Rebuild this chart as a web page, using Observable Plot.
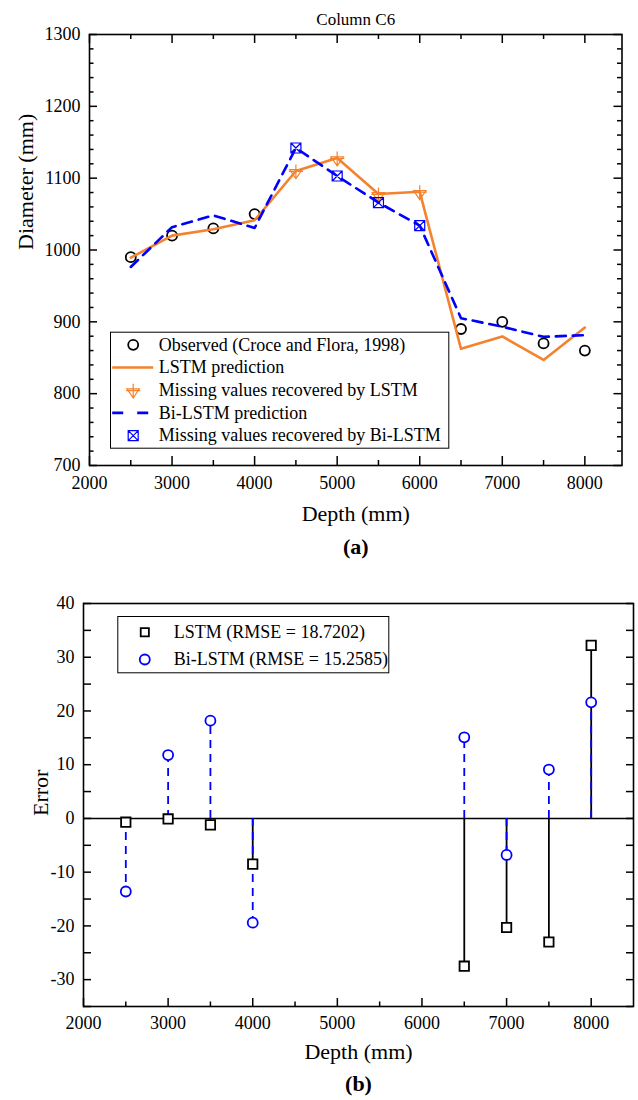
<!DOCTYPE html>
<html><head><meta charset="utf-8">
<script src="https://cdn.jsdelivr.net/npm/d3@7"></script>
<script src="https://cdn.jsdelivr.net/npm/@observablehq/plot@0.6"></script>
<style>
body{margin:0;background:#fff;}
#wrap svg{display:block;}
</style>
</head><body><div id="wrap"></div>
<script>
// ---------- data ----------
const depth = [2500,3000,3500,4000,4500,5000,5500,6000,6500,7000,7500,8000];
const observedDepth = [2500,3000,3500,4000,6500,7000,7500,8000];
const observed = [990,1020,1030,1050,890,900,870,860];
const lstmPred = [989.3,1020,1028.8,1041.4,1110,1128,1078,1081,862.4,879.7,847,892.1];
const biPred = [976.4,1031.8,1048.2,1030.6,1142,1103,1066,1034,905.1,893.2,879.1,881.5];
const missingDepth = [4500,5000,5500,6000];
const lstmMissing = [1110,1128,1078,1081];
const biMissing = [1142,1103,1066,1034];
const lstmError = [-0.7,-0.1,-1.2,-8.5,-27.5,-20.3,-23.0,32.2];
const biError = [-13.6,11.8,18.2,-19.4,15.1,-6.8,9.1,21.6];
const legendA = ["Observed (Croce and Flora, 1998)","LSTM prediction","Missing values recovered by LSTM","Bi-LSTM prediction","Missing values recovered by Bi-LSTM"];
const legendB = ["LSTM (RMSE = 18.7202)","Bi-LSTM (RMSE = 15.2585)"];
const xTicksMajor = [2000,3000,4000,5000,6000,7000,8000];
const xTicksMinor = [2500,3500,4500,5500,6500,7500];
const yTicksA = [700,800,900,1000,1100,1200,1300];
const yTicksAMinor = d3.range(720,1300,20).filter(v => v % 100 !== 0);
const yTicksB = [-30,-20,-10,0,10,20,30,40];
const yTicksBAll = d3.range(-35,41,5);

const ORANGE = "#F4822E", BLUE = "#0000FF";
const FONT = "'Liberation Serif', 'Times New Roman', serif";

// ---------- custom symbols ----------
const triPlus = {draw(ctx, size){ const r = Math.sqrt(size/Math.PI);
  ctx.moveTo(-0.95*r,-0.2*r); ctx.lineTo(0.95*r,-0.2*r); ctx.lineTo(0,1.2*r); ctx.closePath();
  ctx.moveTo(0,-1.0*r); ctx.lineTo(0,1.2*r);
  ctx.moveTo(-1.1*r,0.05*r); ctx.lineTo(1.1*r,0.05*r); }};
const squareX = {draw(ctx, size){ const r = Math.sqrt(size/Math.PI);
  ctx.moveTo(-r,-r); ctx.lineTo(r,-r); ctx.lineTo(r,r); ctx.lineTo(-r,r); ctx.closePath();
  ctx.moveTo(-r,-r); ctx.lineTo(r,r); ctx.moveTo(r,-r); ctx.lineTo(-r,r); }};
const solidSample = {draw(ctx){ ctx.moveTo(-21,0); ctx.lineTo(20,0); }};
const dashSample = {draw(ctx){ ctx.moveTo(-21,0); ctx.lineTo(-10,0); ctx.moveTo(4,0); ctx.lineTo(15,0); }};

// ---------- chart (a) ----------
const A = {w:638, h:565, mt:34, mb:100, ml:89, mr:16.5};
const aPH = A.h - A.mt - A.mb, aPW = A.w - A.ml - A.mr;
const obsData = observedDepth.map((d,i)=>({x:d, y:observed[i]}));
const lstmData = depth.map((d,i)=>({x:d, y:lstmPred[i]}));
const biData = depth.map((d,i)=>({x:d, y:biPred[i]}));
const lmData = missingDepth.map((d,i)=>({x:d, y:lstmMissing[i]}));
const bmData = missingDepth.map((d,i)=>({x:d, y:biMissing[i]}));

const legA0 = 310.3, legAStep = 22.7;
const legASymbols = [
  {symbol:"circle", stroke:"black", r:5, sw:1.8},
  {symbol:solidSample, stroke:ORANGE, r:5, sw:2.6},
  {symbol:triPlus, stroke:ORANGE, r:6.5, sw:1.2},
  {symbol:dashSample, stroke:BLUE, r:5, sw:2.6},
  {symbol:squareX, stroke:BLUE, r:5, sw:1.2}
];

const chartA = Plot.plot({
  width:A.w, height:A.h, marginTop:A.mt, marginBottom:A.mb, marginLeft:A.ml, marginRight:A.mr,
  style:{fontFamily:FONT, fontSize:"18px", color:"black", background:"white"},
  x:{domain:[2000,8450]}, y:{domain:[700,1300]},
  marks:[
    // inward ticks
    Plot.tickX(xTicksMajor, {x:d=>d, stroke:"black", strokeWidth:1.5, insetTop:aPH-9}),
    Plot.tickX(xTicksMinor, {x:d=>d, stroke:"black", strokeWidth:1.5, insetTop:aPH-5}),
    Plot.tickX(xTicksMajor, {x:d=>d, stroke:"black", strokeWidth:1.5, insetBottom:aPH-9}),
    Plot.tickX(xTicksMinor, {x:d=>d, stroke:"black", strokeWidth:1.5, insetBottom:aPH-5}),
    Plot.tickY(yTicksA, {y:d=>d, stroke:"black", strokeWidth:1.5, insetRight:aPW-8}),
    Plot.tickY(yTicksAMinor, {y:d=>d, stroke:"black", strokeWidth:1.5, insetRight:aPW-4.5}),
    Plot.tickY(yTicksA, {y:d=>d, stroke:"black", strokeWidth:1.5, insetLeft:aPW-8}),
    Plot.tickY(yTicksAMinor, {y:d=>d, stroke:"black", strokeWidth:1.5, insetLeft:aPW-4.5}),
    Plot.axisX({ticks:xTicksMajor, tickSize:0, tickPadding:11, tickFormat:d=>String(d), label:null}),
    Plot.axisY({ticks:yTicksA, tickSize:0, tickPadding:9, tickFormat:d=>String(d), label:null}),
    // data
    Plot.dot(obsData, {x:"x", y:"y", r:5, stroke:"black", strokeWidth:1.8, fill:"none"}),
    Plot.line(lstmData, {x:"x", y:"y", stroke:ORANGE, strokeWidth:2.6}),
    Plot.dot(lmData, {x:"x", y:"y", symbol:triPlus, r:6.5, stroke:ORANGE, strokeWidth:1.2, fill:"none"}),
    Plot.line(biData, {x:"x", y:"y", stroke:BLUE, strokeWidth:2.6, strokeDasharray:"10,7"}),
    Plot.dot(bmData, {x:"x", y:"y", symbol:squareX, r:5, stroke:BLUE, strokeWidth:1.2, fill:"none"}),
    Plot.frame({stroke:"black", strokeWidth:1.6}),
    // legend
    Plot.frame({stroke:"black", strokeWidth:1, fill:"white", insetLeft:21, insetTop:297.7, insetRight:173.2, insetBottom:17.3}),
    ...legASymbols.map((s,i)=>Plot.dot([0], {frameAnchor:"top-left", dx:43.7, dy:legA0+i*legAStep, symbol:s.symbol, r:s.r, stroke:s.stroke, strokeWidth:s.sw, fill:"none"})),
    ...legendA.map((t,i)=>Plot.text([t], {frameAnchor:"top-left", dx:69.3, dy:legA0+i*legAStep, text:d=>d, textAnchor:"start", lineAnchor:"middle", fontSize:18, fill:"black"})),
    // titles
    Plot.text(["Column C6"], {frameAnchor:"top", dy:-10, text:d=>d, lineAnchor:"bottom", fontSize:17, fill:"black"}),
    Plot.text(["Depth (mm)"], {frameAnchor:"bottom", dy:55, text:d=>d, lineAnchor:"bottom", fontSize:22, fill:"black"}),
    Plot.text(["(a)"], {frameAnchor:"bottom", dy:88, text:d=>d, lineAnchor:"bottom", fontSize:22, fontWeight:"bold", fill:"black"}),
    Plot.text(["Diameter (mm)"], {frameAnchor:"left", dx:-64, rotate:-90, text:d=>d, lineAnchor:"middle", fontSize:22, fill:"black"})
  ]
});

// ---------- chart (b) ----------
const B = {w:638, h:535, mt:38, mb:94, ml:83, mr:5};
const bPH = B.h - B.mt - B.mb, bPW = B.w - B.ml - B.mr;
const errL = observedDepth.map((d,i)=>({x:d, y:lstmError[i]}));
const errB = observedDepth.map((d,i)=>({x:d, y:biError[i]}));
const legB0 = 28.7, legBStep = 27.3;

const chartB = Plot.plot({
  width:B.w, height:B.h, marginTop:B.mt, marginBottom:B.mb, marginLeft:B.ml, marginRight:B.mr,
  style:{fontFamily:FONT, fontSize:"18px", color:"black", background:"white"},
  x:{domain:[2000,8500]}, y:{domain:[-35,40]},
  marks:[
    Plot.tickX(xTicksMajor, {x:d=>d, stroke:"black", strokeWidth:1.5, insetTop:bPH-8}),
    Plot.tickX(xTicksMinor, {x:d=>d, stroke:"black", strokeWidth:1.5, insetTop:bPH-4.5}),
    Plot.tickY(yTicksBAll, {y:d=>d, stroke:"black", strokeWidth:1.5, insetRight:bPW-8}),
    Plot.tickY(yTicksBAll, {y:d=>d, stroke:"black", strokeWidth:1.5, insetLeft:bPW-7}),
    Plot.axisX({ticks:xTicksMajor, tickSize:0, tickPadding:10, tickFormat:d=>String(d), label:null}),
    Plot.axisY({ticks:yTicksB, tickSize:0, tickPadding:9, tickFormat:d=>String(d), label:null}),
    Plot.ruleY([0], {stroke:"black", strokeWidth:1.6}),
    Plot.ruleX(errL, {x:"x", y1:0, y2:"y", stroke:"black", strokeWidth:1.8}),
    Plot.ruleX(errB, {x:"x", y1:0, y2:"y", stroke:BLUE, strokeWidth:1.8, strokeDasharray:"8,6"}),
    Plot.dot(errL, {x:"x", y:"y", symbol:"square", r:5.3, stroke:"black", strokeWidth:1.8, fill:"white"}),
    Plot.dot(errB, {x:"x", y:"y", symbol:"circle", r:5, stroke:BLUE, strokeWidth:1.8, fill:"white"}),
    Plot.frame({stroke:"black", strokeWidth:1.6}),
    Plot.frame({stroke:"black", strokeWidth:1, fill:"white", insetLeft:34.3, insetTop:13, insetRight:244.7, insetBottom:333.7}),
    Plot.dot([0], {frameAnchor:"top-left", dx:61.3, dy:legB0, symbol:"square", r:4.6, stroke:"black", strokeWidth:1.8, fill:"white"}),
    Plot.dot([0], {frameAnchor:"top-left", dx:61.3, dy:legB0+legBStep, symbol:"circle", r:5, stroke:BLUE, strokeWidth:1.8, fill:"white"}),
    ...legendB.map((t,i)=>Plot.text([t], {frameAnchor:"top-left", dx:90.3, dy:legB0+i*legBStep, text:d=>d, textAnchor:"start", lineAnchor:"middle", fontSize:18, fill:"black"})),
    Plot.text(["Depth (mm)"], {frameAnchor:"bottom", dy:52, text:d=>d, lineAnchor:"bottom", fontSize:22, fill:"black"}),
    Plot.text(["(b)"], {frameAnchor:"bottom", dy:84, text:d=>d, lineAnchor:"bottom", fontSize:22, fontWeight:"bold", fill:"black"}),
    Plot.text(["Error"], {frameAnchor:"left", dx:-43, dy:11, rotate:-90, text:d=>d, lineAnchor:"middle", fontSize:22, fill:"black"})
  ]
});

const wrap = document.getElementById("wrap");
wrap.appendChild(chartA);
wrap.appendChild(chartB);
</script>
</body></html>
